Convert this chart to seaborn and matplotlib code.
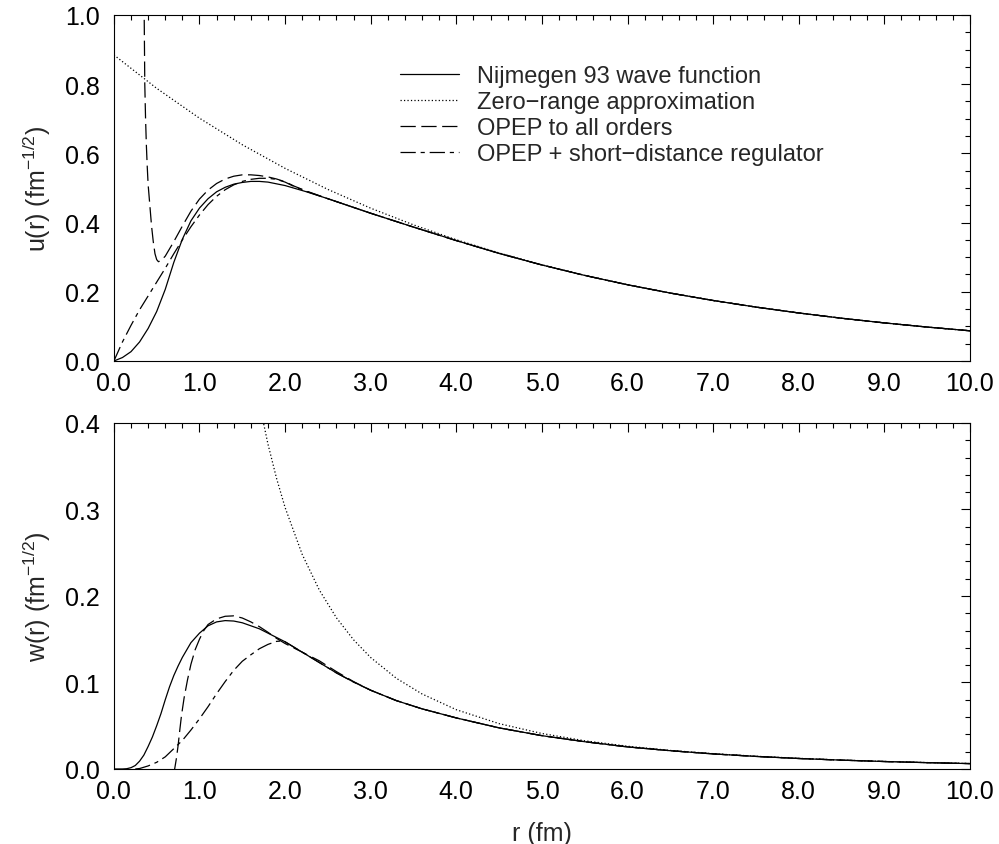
import matplotlib
matplotlib.use("Agg")
import matplotlib.pyplot as plt
from matplotlib.ticker import MultipleLocator, FormatStrFormatter
import seaborn as sns
import numpy as np

# ---------------- data ----------------
# Upper panel: S-wave u(r)
r_nij_u = [0, 0.1, 0.2, 0.3, 0.4, 0.5, 0.6, 0.7, 0.8, 0.9, 1.0, 1.1, 1.2, 1.3, 1.4,
           1.5, 1.6, 1.7, 1.8, 2.0, 2.25, 2.5, 2.75, 3.0, 3.5, 4.0, 4.5, 5.0, 5.5,
           6.0, 6.5, 7.0, 7.5, 8.0, 8.5, 9.0, 9.5, 10.0]
u_nij = [0, 0.010, 0.027, 0.055, 0.094, 0.143, 0.207, 0.285, 0.352, 0.405, 0.442,
         0.469, 0.489, 0.502, 0.511, 0.516, 0.519, 0.519, 0.517, 0.507, 0.489,
         0.469, 0.448, 0.427, 0.387, 0.348, 0.311, 0.2775, 0.2473, 0.2203, 0.1963,
         0.1749, 0.1558, 0.1388, 0.1236, 0.1101, 0.0981, 0.0873]

r_zr_u = [0, 0.5, 1.0, 1.5, 2.0, 2.5, 3.0, 3.5, 4.0, 4.5, 5.0, 5.5, 6.0, 6.5, 7.0,
          7.5, 8.0, 8.5, 9.0, 9.5, 10.0]
u_zr = [0.8845, 0.788, 0.7017, 0.625, 0.5567, 0.4958, 0.4416, 0.3934, 0.3504,
        0.3121, 0.278, 0.2476, 0.2205, 0.1964, 0.1750, 0.1558, 0.1388, 0.1236,
        0.1101, 0.0981, 0.0873]

r_opep_u = [0.350, 0.354, 0.361, 0.37, 0.38, 0.39, 0.40, 0.42, 0.44, 0.46, 0.48,
            0.50, 0.52, 0.55, 0.6, 0.7, 0.8, 0.9, 1.0, 1.1, 1.2, 1.3, 1.4, 1.5,
            1.6, 1.7, 1.8, 1.9, 2.0, 2.1, 2.25, 2.5, 2.75, 3.0, 3.5, 4.0, 4.5,
            5.0, 5.5, 6.0, 6.5, 7.0, 7.5, 8.0, 8.5, 9.0, 9.5, 10.0]
u_opep = [1.15, 1.0, 0.80, 0.70, 0.62, 0.56, 0.51, 0.45, 0.39, 0.345, 0.31,
          0.293, 0.287, 0.29, 0.303, 0.345, 0.39, 0.433, 0.468, 0.494, 0.513,
          0.526, 0.534, 0.538, 0.538, 0.536, 0.532, 0.526, 0.518, 0.506, 0.491,
          0.469, 0.448, 0.427, 0.387, 0.348, 0.311, 0.2775, 0.2473, 0.2203, 0.1963,
          0.1749, 0.1558, 0.1388, 0.1236, 0.1101, 0.0981, 0.0873]

r_reg_u = [0, 0.1, 0.2, 0.3, 0.4, 0.5, 0.6, 0.7, 0.8, 0.9, 1.0, 1.1, 1.2, 1.3, 1.4,
           1.5, 1.6, 1.7, 1.8, 1.9, 2.0, 2.1, 2.25, 2.5, 2.75, 3.0, 3.5, 4.0, 4.5,
           5.0, 5.5, 6.0, 6.5, 7.0, 7.5, 8.0, 8.5, 9.0, 9.5, 10.0]
u_reg = [0, 0.055, 0.103, 0.148, 0.188, 0.228, 0.268, 0.31, 0.35, 0.388, 0.422,
         0.452, 0.476, 0.495, 0.509, 0.519, 0.525, 0.528, 0.528, 0.525, 0.517,
         0.505, 0.490, 0.469, 0.448, 0.427, 0.387, 0.348, 0.311, 0.2775, 0.2473,
         0.2203, 0.1963, 0.1749, 0.1558, 0.1388, 0.1236, 0.1101, 0.0981, 0.0873]

# Lower panel: D-wave w(r)
r_nij_w = [0, 0.1, 0.15, 0.2, 0.25, 0.3, 0.35, 0.4, 0.45, 0.5, 0.55, 0.6, 0.65,
           0.7, 0.75, 0.8, 0.9, 1.0, 1.1, 1.2, 1.3, 1.4, 1.5, 1.6, 1.7, 1.8, 2.0,
           2.3, 2.6, 2.8, 3.0, 3.3, 3.6, 4.0, 4.5, 5.0, 5.5, 6.0, 6.5, 7.0, 7.5,
           8.0, 8.5, 9.0, 9.5, 10.0]
w_nij = [0, 0.0, 0.0003, 0.0015, 0.004, 0.009, 0.016, 0.026, 0.037, 0.050, 0.064,
         0.080, 0.095, 0.108, 0.119, 0.129, 0.146, 0.157, 0.1655, 0.170, 0.1715,
         0.171, 0.169, 0.1655, 0.162, 0.157, 0.147, 0.129, 0.111, 0.1005, 0.091,
         0.079, 0.0695, 0.059, 0.0475, 0.0385, 0.0315, 0.0255, 0.0211, 0.0174,
         0.0145, 0.0121, 0.0102, 0.0086, 0.0073, 0.0062]

r_zr_w = [1.7, 1.8, 1.9, 2.0, 2.2, 2.4, 2.6, 2.8, 3.0, 3.3, 3.6, 4.0, 4.5, 5.0,
          5.5, 6.0, 6.5, 7.0, 7.5, 8.0, 8.5, 9.0, 9.5, 10.0]
w_zr = [0.4223, 0.3755, 0.3360, 0.3022, 0.2480, 0.2068, 0.1747, 0.1493, 0.1288,
        0.1048, 0.0867, 0.0685, 0.0524, 0.0410, 0.0326, 0.0263, 0.0214, 0.0177,
        0.0147, 0.0123, 0.0103, 0.0087, 0.0074, 0.0063]

r_opep_w = [0.70, 0.71, 0.73, 0.75, 0.77, 0.79, 0.82, 0.86, 0.9, 0.95, 1.0, 1.05,
            1.1, 1.2, 1.3, 1.4, 1.5, 1.6, 1.7, 1.8, 1.9, 2.0, 2.13, 2.4, 2.6, 2.8,
            3.0, 3.3, 3.6, 4.0, 4.5, 5.0, 5.5, 6.0, 6.5, 7.0, 7.5, 8.0, 8.5, 9.0,
            9.5, 10.0]
w_opep = [-0.005, 0.0, 0.012, 0.027, 0.045, 0.062, 0.082, 0.103, 0.121, 0.138,
          0.150, 0.160, 0.167, 0.1735, 0.1765, 0.177, 0.1745, 0.170, 0.1645, 0.158,
          0.151, 0.145, 0.1385, 0.125, 0.1125, 0.101, 0.091, 0.079, 0.0695, 0.059,
          0.0475, 0.0385, 0.0315, 0.0255, 0.0211, 0.0174, 0.0145, 0.0121, 0.0102,
          0.0086, 0.0073, 0.0062]

r_reg_w = [0.25, 0.3, 0.35, 0.4, 0.5, 0.6, 0.7, 0.8, 0.9, 1.0, 1.1, 1.2, 1.3, 1.4,
           1.5, 1.6, 1.7, 1.8, 1.9, 1.97, 2.0, 2.3, 2.6, 2.8, 3.0, 3.3, 3.6, 4.0,
           4.5, 5.0, 5.5, 6.0, 6.5, 7.0, 7.5, 8.0, 8.5, 9.0, 9.5, 10.0]
w_reg = [0, 0.0005, 0.002, 0.0035, 0.0077, 0.014, 0.0235, 0.033, 0.045, 0.058,
         0.072, 0.087, 0.101, 0.114, 0.1245, 0.132, 0.139, 0.144, 0.1475, 0.148,
         0.147, 0.129, 0.111, 0.1005, 0.091, 0.079, 0.0695, 0.059, 0.0475, 0.0385,
         0.0315, 0.0255, 0.0211, 0.0174, 0.0145, 0.0121, 0.0102, 0.0086, 0.0073,
         0.0062]

labels = ["Nijmegen 93 wave function", "Zero\u2212range approximation",
          "OPEP to all orders", "OPEP + short\u2212distance regulator"]
x_ticks = [0, 1, 2, 3, 4, 5, 6, 7, 8, 9, 10]

# ---------------- style ----------------
sns.set_style("white")
plt.rcParams["font.family"] = ["Liberation Sans", "DejaVu Sans"]
plt.rcParams["mathtext.fontset"] = "custom"
plt.rcParams["mathtext.rm"] = "Liberation Sans"
plt.rcParams["mathtext.it"] = "Liberation Sans:italic"
plt.rcParams["mathtext.default"] = "regular"
plt.rcParams["lines.scale_dashes"] = False

styles = [
    dict(linestyle="-"),
    dict(linestyle=(0, (0.9, 1.6))),
    dict(linestyle=(0, (11, 4))),
    dict(linestyle=(0, (11, 3.5, 3, 3.5))),
]
LW = 0.9

fig = plt.figure(figsize=(9.99, 8.45), dpi=100)
ax1 = fig.add_axes([0.114, 0.5716, 0.8569, 0.4095])
ax2 = fig.add_axes([0.114, 0.0888, 0.8569, 0.4095])

top_sets = [(r_nij_u, u_nij), (r_zr_u, u_zr), (r_opep_u, u_opep), (r_reg_u, u_reg)]
bot_sets = [(r_nij_w, w_nij), (r_zr_w, w_zr), (r_opep_w, w_opep), (r_reg_w, w_reg)]

for (xs, ys), st, lab in zip(top_sets, styles, labels):
    sns.lineplot(x=xs, y=ys, ax=ax1, color="black", lw=LW, sort=False,
                 estimator=None, label=lab, **st)
for (xs, ys), st in zip(bot_sets, styles):
    sns.lineplot(x=xs, y=ys, ax=ax2, color="black", lw=LW, sort=False,
                 estimator=None, **st)

FS = 18
for ax, ymax, ymaj, ymin in [(ax1, 1.0, 0.2, 0.05), (ax2, 0.4, 0.1, 0.02)]:
    ax.set_xlim(0, 10)
    ax.set_ylim(0, ymax)
    ax.set_xticks(x_ticks)
    ax.xaxis.set_minor_locator(MultipleLocator(0.2))
    ax.yaxis.set_major_locator(MultipleLocator(ymaj))
    ax.yaxis.set_minor_locator(MultipleLocator(ymin))
    ax.xaxis.set_major_formatter(FormatStrFormatter("%.1f"))
    ax.yaxis.set_major_formatter(FormatStrFormatter("%.1f"))
    ax.tick_params(which="both", direction="in", top=True, right=True,
                   width=0.8, colors="black", labelsize=FS)
    ax.tick_params(which="major", length=6.5)
    ax.tick_params(which="minor", length=3.6)
    ax.tick_params(axis="x", pad=7)
    ax.tick_params(axis="y", pad=10)
    for sp in ax.spines.values():
        sp.set_linewidth(0.8)
        sp.set_color("black")

ax1.set_ylabel("u(r) (fm$^{-1/2}$)", fontsize=FS, labelpad=9)
ax2.set_ylabel("w(r) (fm$^{-1/2}$)", fontsize=FS, labelpad=9)
ax2.set_xlabel("r (fm)", fontsize=FS, labelpad=13)

leg = ax1.legend(loc="upper left", bbox_to_anchor=(0.334, 0.856), frameon=False,
                 fontsize=17, handlelength=2.5, handletextpad=0.75,
                 labelspacing=0.17, borderpad=0, borderaxespad=0)
for h in leg.get_lines():
    h.set_linewidth(LW)

fig.savefig("out.png", dpi=100)
